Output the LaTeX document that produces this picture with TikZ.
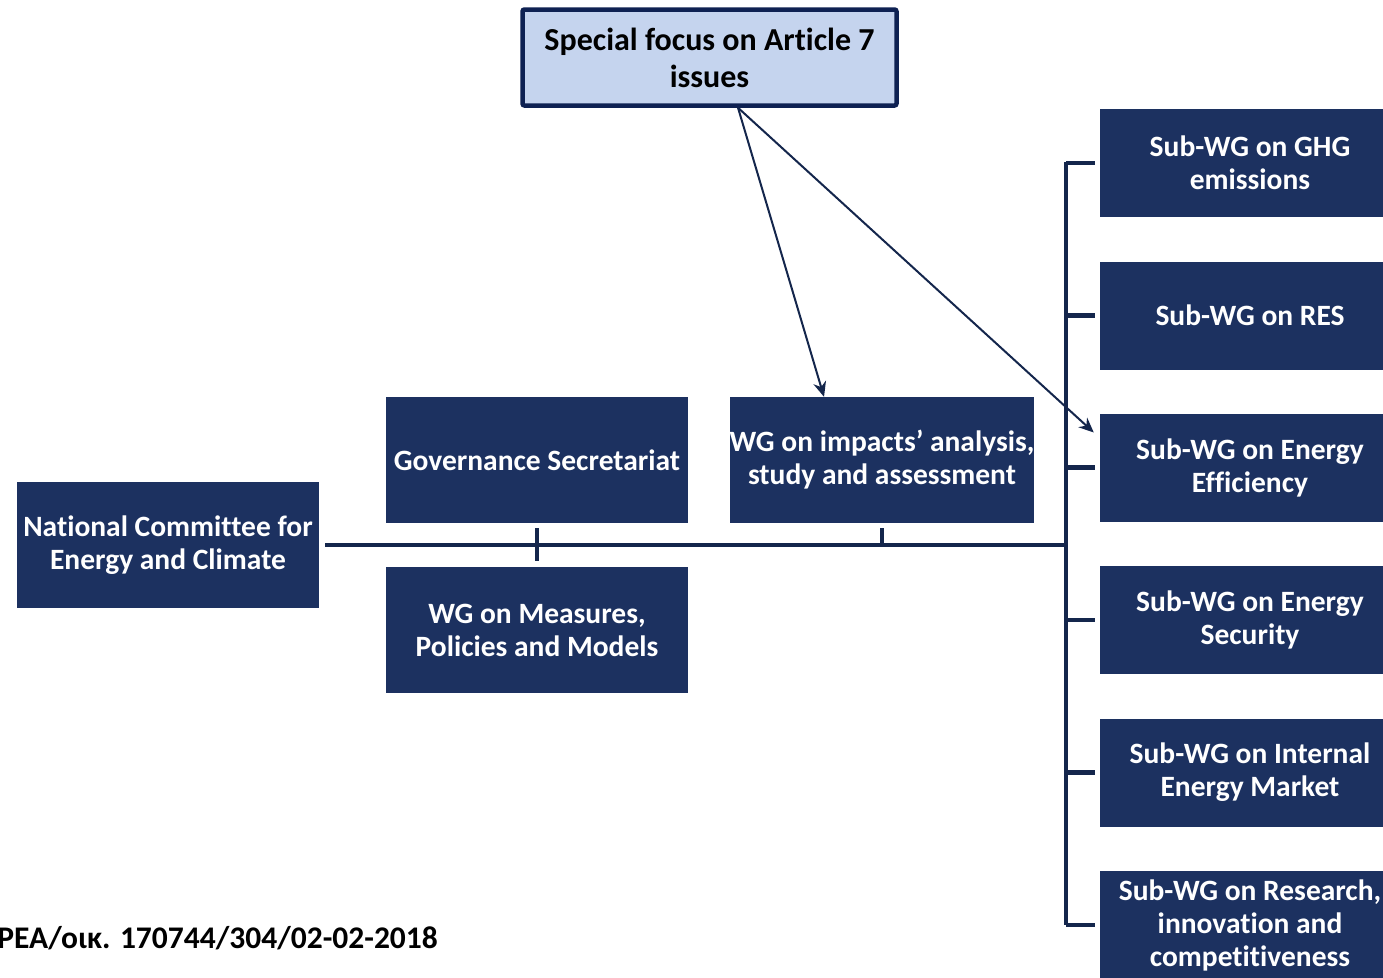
\documentclass[tikz,border=0pt]{standalone}
\usepackage{fontspec}
\setmainfont{Carlito}[Ligatures={NoCommon}]
\usetikzlibrary{arrows.meta,calc}
\definecolor{navy}{HTML}{1C3160}
\definecolor{lineblue}{HTML}{14264C}
\definecolor{topfill}{HTML}{C5D4EE}
\definecolor{topborder}{HTML}{0E2152}
\begin{document}
\begin{tikzpicture}[x=1pt,y=-1pt,
  box/.style={fill=navy,text=white,font=\fontsize{29.5}{33}\selectfont\bfseries,align=center,inner sep=0pt,minimum width=302pt,minimum height=126pt},
  subbox/.style={box,minimum width=300pt,minimum height=108pt},
  topbox/.style={fill=topfill,draw=topborder,line width=4.5pt,rounded corners=2pt,text=black,font=\fontsize{32}{37}\selectfont\bfseries,align=center,inner sep=0pt,minimum width=374pt,minimum height=96pt},
  bus/.style={draw=lineblue,line width=4.5pt},
  arr/.style={draw=lineblue,line width=2pt,-{Stealth[length=15pt,width=13pt]}}]
\useasboundingbox (0,0) rectangle (1383,977);
\node[topbox] (top) at (709.5,57.5) {Special focus on Article 7\\issues};
\node[box] (ncec) at (168,545) {National Committee for\\Energy and Climate};
\node[box] (gov) at (537,460) {Governance Secretariat};
\node[box] (wgi) at (882,460) {WG on impacts’ analysis,\\study and assessment};
\node[box] (meas) at (537,630) {WG on Measures,\\Policies and Models};
\node[subbox] (s1) at (1250,163) {Sub-WG on GHG\\emissions};
\node[subbox] (s2) at (1250,315.5) {Sub-WG on RES};
\node[subbox] (s3) at (1250,467.5) {Sub-WG on Energy\\Efficiency};
\node[subbox] (s4) at (1250,620) {Sub-WG on Energy\\Security};
\node[subbox] (s5) at (1250,772.5) {Sub-WG on Internal\\Energy Market};
\node[subbox] (s6) at (1250,925) {Sub-WG on Research,\\innovation and\\competitiveness};
\node[anchor=base east,font=\fontsize{31.5}{36}\selectfont\bfseries,inner sep=0pt] (ref) at (438,948) {PEA/οικ. 170744/304/02-02-2018};
% bus
\coordinate (bt) at (1066,162);
\coordinate (bb) at (1066,925);
\coordinate (bm) at (1066,545);
\draw[bus] (bt) -- (bb);
\draw[bus,shorten <=6pt] (ncec.east) -- (bm);
\foreach \s in {s1,s2,s3,s4,s5,s6}{
  \draw[bus,shorten >=5pt] (bt|-\s.west) -- (\s.west);
}
\draw[bus,shorten <=5pt,shorten >=6pt] (gov.south) -- (meas.north);
\draw[bus,shorten <=5pt] (wgi.south) -- (wgi.south|-bm);
% arrows
\coordinate (a0) at ($(top.south)+(28.5,0)$);
\coordinate (a1) at ($(wgi.north)+(-58,0)$);
\coordinate (a2) at ($(s3.west)+(-6,-35)$);
\draw[arr] (a0) -- (a1);
\draw[arr] (a0) -- (a2);
\end{tikzpicture}
\end{document}
